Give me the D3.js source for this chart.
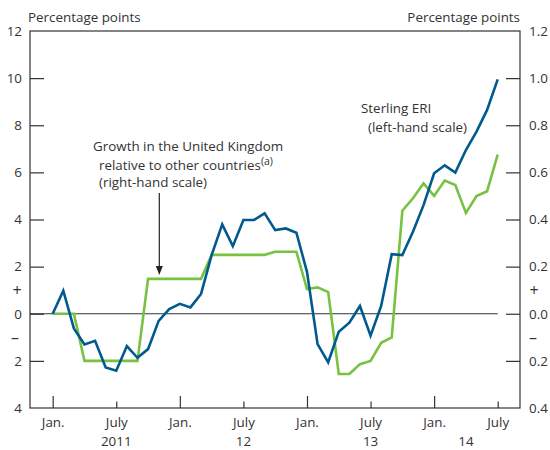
<!DOCTYPE html>
<html>
<head>
<meta charset="utf-8">
<script src="https://cdn.jsdelivr.net/npm/d3@7/dist/d3.min.js"></script>
<style>
  html, body { margin: 0; padding: 0; background: #fff; }
  svg text { font-family: "Open Sans", "Noto Sans", sans-serif; fill: #333; }
</style>
</head>
<body>
<svg id="chart" width="550" height="450"></svg>
<script>
// ---- Data (monthly, Jan 2011 .. July 2014) ----
const monthIndex = d3.range(0, 43); // 0 = Jan 2011, 42 = July 2014

// Sterling ERI, percentage points (left-hand scale)
const sterlingERI = [
  0.0, 0.98, -0.62, -1.3, -1.15, -2.28, -2.42, -1.37, -1.87, -1.5,
  -0.3, 0.2, 0.42, 0.27, 0.84, 2.49, 3.79, 2.87, 3.98, 3.98,
  4.26, 3.55, 3.62, 3.44, 1.78, -1.29, -2.06, -0.76, -0.38, 0.33,
  -0.93, 0.33, 2.53, 2.49, 3.48, 4.61, 5.96, 6.3, 5.99, 6.95,
  7.73, 8.65, 9.95
];

// Growth in the UK relative to other countries, percentage points (right-hand scale)
const relativeGrowth = [
  0.0, 0.0, 0.0, -0.2, -0.2, -0.2, -0.2, -0.2, -0.2, 0.148,
  0.148, 0.148, 0.148, 0.148, 0.148, 0.25, 0.25, 0.25, 0.25, 0.25,
  0.25, 0.263, 0.263, 0.263, 0.105, 0.112, 0.092, -0.256, -0.256, -0.214,
  -0.2, -0.123, -0.1, 0.437, 0.49, 0.553, 0.5, 0.565, 0.546, 0.428,
  0.5, 0.52, 0.675
];

const leftTicks = [12, 10, 8, 6, 4, 2, 0, -2, -4];
const rightTicks = [1.2, 1.0, 0.8, 0.6, 0.4, 0.2, 0.0, -0.2, -0.4];
const xTickMonths = [0, 6, 12, 18, 24, 30, 36, 42];
const xTickLabels = ["Jan.", "July", "Jan.", "July", "Jan.", "July", "Jan.", "July"];
const yearLabelPos = [6, 18, 30, 39];
const yearLabels = ["2011", "12", "13", "14"];

// ---- Layout ----
const pLeft = 30, pRight = 520, pTop = 31, pBottom = 408;
const svg = d3.select("#chart");
const x = d3.scaleLinear().domain([0, 42]).range([52.7, 497.7]);
const yL = d3.scaleLinear().domain([-4, 12]).range([pBottom, pTop]);
const yR = d3.scaleLinear().domain([-0.4, 1.2]).range([pBottom, pTop]);

const axisColor = "#333";
const fontSize = 13.4;

// zero line
svg.append("line")
  .attr("x1", pLeft).attr("x2", x(42))
  .attr("y1", yL(0)).attr("y2", yL(0))
  .attr("stroke", axisColor).attr("stroke-width", 1);

// Left axis
const gL = svg.append("g").attr("transform", `translate(${pLeft},0)`)
  .call(d3.axisLeft(yL).tickValues(leftTicks)
    .tickFormat(d => String(Math.abs(d))).tickSize(-14).tickPadding(8));
// Right axis
const gR = svg.append("g").attr("transform", `translate(${pRight},0)`)
  .call(d3.axisRight(yR).tickValues(rightTicks)
    .tickFormat(d => Math.abs(d).toFixed(1)).tickSize(-14).tickPadding(9));
// Bottom axis
const gB = svg.append("g").attr("transform", `translate(0,${pBottom})`)
  .call(d3.axisBottom(x).tickValues(xTickMonths)
    .tickFormat((d, i) => xTickLabels[i]).tickSize(-12).tickPadding(0));

[gL, gR, gB].forEach(g => {
  g.select(".domain").remove();
  g.selectAll(".tick line").attr("stroke", axisColor).attr("stroke-width", 1.2);
  g.selectAll(".tick text").attr("font-size", fontSize).attr("fill", "#333")
    .style("font-family", '"Open Sans", sans-serif');
});
gL.selectAll(".tick").filter(d => d === 12 || d === -4).select("line").remove();
gR.selectAll(".tick").filter(d => Math.abs(d) > 1.1 || d === -0.4).select("line").remove();
gB.selectAll(".tick line").attr("y2", d => (d % 12 === 0 ? -12 : -6.5));
gB.selectAll(".tick text").attr("y", 9).attr("dy", "0.71em");

// Frame
svg.append("rect")
  .attr("x", pLeft).attr("y", pTop)
  .attr("width", pRight - pLeft).attr("height", pBottom - pTop)
  .attr("fill", "none").attr("stroke", axisColor).attr("stroke-width", 1.2);

// Year labels
svg.append("g").selectAll("text").data(yearLabelPos).join("text")
  .attr("x", d => x(d)).attr("y", 446)
  .attr("text-anchor", "middle").attr("font-size", fontSize)
  .text((d, i) => yearLabels[i]);

// +/- signs
const signs = [
  { t: "+", xp: 17, v: 1 }, { t: "–", xp: 15, v: -1 },
  { t: "+", xp: 534, v: 1 }, { t: "–", xp: 533, v: -1 }
];
svg.append("g").selectAll("text").data(signs).join("text")
  .attr("x", d => d.xp).attr("y", d => yL(d.v))
  .attr("dy", "0.35em").attr("text-anchor", "middle").attr("font-size", 16)
  .text(d => d.t);

// Axis titles
svg.append("text").attr("x", 28).attr("y", 22).attr("font-size", fontSize)
  .text("Percentage points");
svg.append("text").attr("x", 520).attr("y", 22).attr("text-anchor", "end")
  .attr("font-size", fontSize).text("Percentage points");

// Lines
const lineL = d3.line().x((d, i) => x(monthIndex[i])).y(d => yL(d));
const lineR = d3.line().x((d, i) => x(monthIndex[i])).y(d => yR(d));
svg.append("path").datum(relativeGrowth).attr("d", lineR)
  .attr("fill", "none").attr("stroke", "#77c143").attr("stroke-width", 2.6)
  .attr("stroke-linejoin", "miter");
svg.append("path").datum(sterlingERI).attr("d", lineL)
  .attr("fill", "none").attr("stroke", "#005a8f").attr("stroke-width", 2.6)
  .attr("stroke-linejoin", "miter");

// Annotations
const ann1 = svg.append("text").attr("font-size", fontSize);
ann1.append("tspan").attr("x", 93).attr("y", 151).text("Growth in the United Kingdom");
ann1.append("tspan").attr("x", 99).attr("y", 170).text("relative to other countries");
ann1.append("tspan").attr("dy", -5).attr("font-size", 10.5).text("(a)");
ann1.append("tspan").attr("x", 99).attr("y", 187).text("(right-hand scale)");

// Arrow
svg.append("line").attr("x1", 159.3).attr("x2", 159.3).attr("y1", 193).attr("y2", 268)
  .attr("stroke", "#222").attr("stroke-width", 1.2);
svg.append("path").attr("d", "M155.8,266 L162.8,266 L159.3,275 Z").attr("fill", "#222");

const ann2 = svg.append("text").attr("font-size", fontSize);
ann2.append("tspan").attr("x", 361).attr("y", 113).text("Sterling ERI");
ann2.append("tspan").attr("x", 368).attr("y", 132).text("(left-hand scale)");
</script>
</body>
</html>
